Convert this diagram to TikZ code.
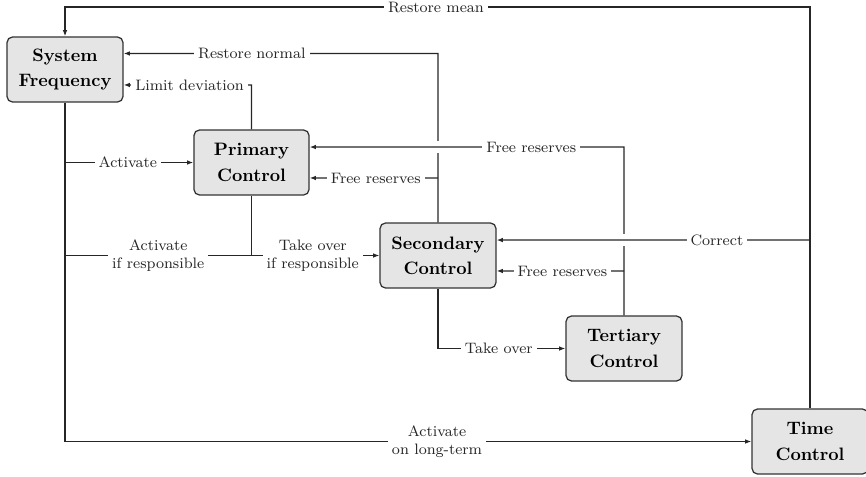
\documentclass[tikz,border=0pt]{standalone}
\usetikzlibrary{arrows.meta}
\begin{document}
\begin{tikzpicture}[x=0.5556pt,y=-0.5556pt,
  box/.style={draw=black!80, fill=black!10, rounded corners=3pt, line width=0.7pt,
    minimum width=64.4pt, minimum height=36.1pt, align=center, inner sep=0pt,
    font=\fontsize{10}{14}\selectfont\bfseries},
  lbl/.style={fill=white, inner sep=2.2pt, align=center, text=black!85,
    font=\fontsize{8.4}{10.2}\selectfont},
  conn/.style={draw=black!85, line width=0.7pt},
  arr/.style={conn, -{Latex[length=3.5pt,width=2.6pt]}},
  gap/.style={fill=white, draw=none}
]
\useasboundingbox (0,0) rectangle (866,476);

\node[box] (sf) at (65,69.5) {System\\Frequency};
\node[box, minimum width=63.9pt] (pri) at (251.5,162.5) {Primary\\Control};
\node[box] (sec) at (438,255.5) {Secondary\\Control};
\node[box] (ter) at (624,348.5) {Tertiary\\Control};
\node[box] (tim) at (810,441.5) {Time\\Control};

% Restore mean
\draw[arr] (tim.north) -- (810,7) -- node[lbl,pos=0.502]{Restore mean} (65,7) -- (sf.north);
% Restore normal
\draw[arr] (sec.north) -- (438,53.5) -- node[lbl,pos=0.592]{Restore normal} ([yshift=8.9pt]sf.east);
% Limit deviation
\draw[arr] (pri.north) -- (251.5,85) -- node[lbl,pos=0.484]{Limit deviation} ([yshift=-8.6pt]sf.east);
% System frequency down to time control
\draw[arr] (sf.south) -- (65,441.5) -- node[lbl,pos=0.542]{Activate\\on long-term} (tim.west);
% Activate primary
\draw[arr] (65,162.5) -- node[lbl,pos=0.49]{Activate} (pri.west);
% Activate if responsible
\draw[conn] (65,255.5) -- node[lbl,pos=0.5]{Activate\\if responsible} (251.5,255.5);
% Take over if responsible
\draw[arr] (pri.south) -- (251.5,255.5) -- node[lbl,pos=0.479]{Take over\\if responsible} (sec.west);
% Free reserves from secondary to primary
\draw[arr] (438,178) -- node[lbl,pos=0.485]{Free reserves} ([yshift=-8.6pt]pri.east);
% Free reserves from tertiary to primary (crosses x=438)
\fill[gap] (433,141) rectangle (443,153);
\draw[arr] (ter.north) -- (624,147) -- node[lbl,pos=0.295]{Free reserves} ([yshift=8.6pt]pri.east);
% Free reserves from tertiary to secondary
\draw[arr] (624,271) -- node[lbl,pos=0.484]{Free reserves} ([yshift=-8.6pt]sec.east);
% Correct (crosses x=624)
\fill[gap] (619,233.5) rectangle (629,245.5);
\draw[arr] (810,240) -- node[lbl,pos=0.297]{Correct} ([yshift=8.6pt]sec.east);
% Take over
\draw[arr] (sec.south) -- (438,348.5) -- node[lbl,pos=0.477]{Take over} (ter.west);
\end{tikzpicture}
\end{document}
